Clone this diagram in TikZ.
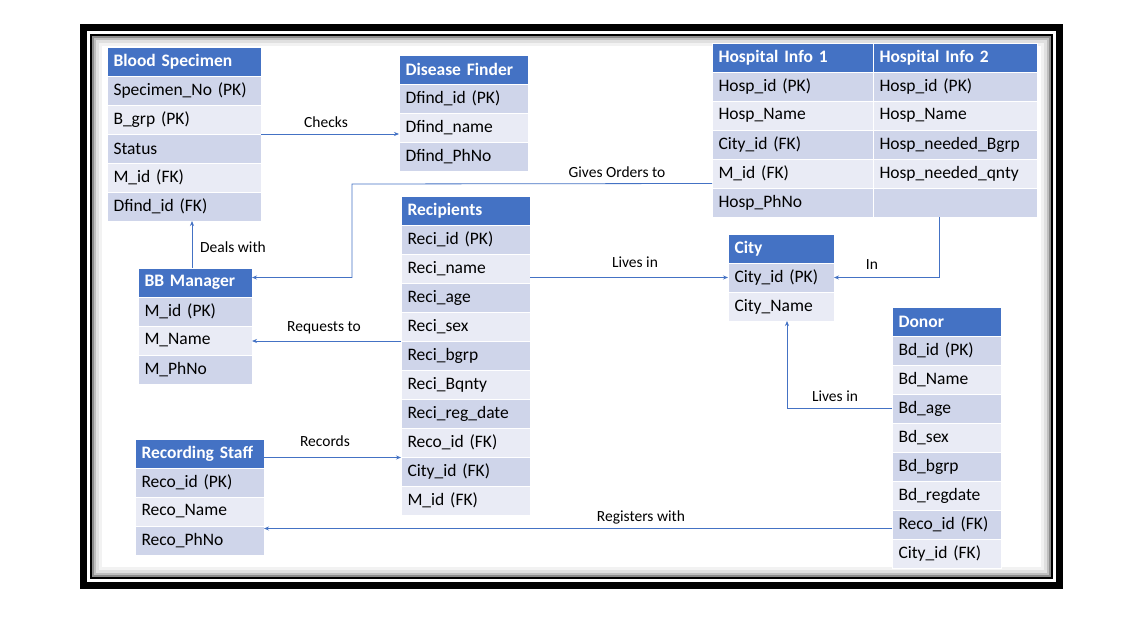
\documentclass[tikz,border=0pt]{standalone}
\usepackage{fontspec}
\setmainfont{Carlito}
\usetikzlibrary{positioning,arrows.meta}

\definecolor{hdrblue}{HTML}{4472C4}
\definecolor{rowdark}{HTML}{CFD5EA}
\definecolor{rowlight}{HTML}{E9EBF5}

\newcommand{\cellfont}{\fontsize{17.5}{20}\selectfont}
\newcommand{\lblfont}{\fontsize{15.5}{18}\selectfont}

\tikzset{
  cell/.style={rectangle, draw=white, line width=1pt, outer sep=0pt, inner xsep=6.5pt, inner ysep=0pt,
    minimum height=29pt, text width=#1, align=left, font=\cellfont},
  hdr/.style={cell=#1, fill=hdrblue, text=white, font=\cellfont\bfseries},
  rowd/.style={cell=#1, fill=rowdark},
  rowl/.style={cell=#1, fill=rowlight},
  conn/.style={draw=hdrblue, line width=0.8pt, -{Stealth[length=5pt,width=4pt]}},
  lbl/.style={font=\lblfont, inner sep=1pt},
}

\begin{document}
\begin{tikzpicture}[x=1pt,y=-1pt]
\useasboundingbox (0,0) rectangle (1125,621);
\fill[white] (0,0) rectangle (1125,621);

% Draw the picture frame
\fill[black] (80,24) rectangle (1063,589);
\fill[white] (87,31) rectangle (1056,582);
\fill[black] (90,34) rectangle (1053,579);
\fill[black!45] (92,36) rectangle (1051,577);
\fill[black!25] (94,38) rectangle (1049,575);
\fill[black!12] (96,40) rectangle (1047,573);
\fill[black!5] (99,43) rectangle (1044,570);
\fill[white] (102,46) rectangle (1041,567);

% Blood Specimen
\node[hdr=141pt, anchor=north west] (bsh) at (107,47) {Blood Specimen};
\node[rowd=141pt, below=0pt of bsh] (bs1) {Specimen\_No (PK)};
\node[rowl=141pt, below=0pt of bs1] (bs2) {B\_grp (PK)};
\node[rowd=141pt, below=0pt of bs2] (bs3) {Status};
\node[rowl=141pt, below=0pt of bs3] (bs4) {M\_id (FK)};
\node[rowd=141pt, below=0pt of bs4] (bs5) {Dfind\_id (FK)};

% Disease Finder
\node[hdr=116pt, anchor=north west] (dfh) at (399,55) {Disease Finder};
\node[rowd=116pt, below=0pt of dfh] (df1) {Dfind\_id (PK)};
\node[rowl=116pt, below=0pt of df1] (df2) {Dfind\_name};
\node[rowd=116pt, below=0pt of df2] (df3) {Dfind\_PhNo};

% Hospital Info 1 and 2
\node[hdr=148pt, anchor=north west] (h1h) at (712,43) {Hospital Info 1};
\node[rowd=148pt, below=0pt of h1h] (h11) {Hosp\_id (PK)};
\node[rowl=148pt, below=0pt of h11] (h12) {Hosp\_Name};
\node[rowd=148pt, below=0pt of h12] (h13) {City\_id (FK)};
\node[rowl=148pt, below=0pt of h13] (h14) {M\_id (FK)};
\node[rowd=148pt, below=0pt of h14] (h15) {Hosp\_PhNo};
\node[hdr=151pt, right=0pt of h1h] (h2h) {Hospital Info 2};
\node[rowd=151pt, below=0pt of h2h] (h21) {Hosp\_id (PK)};
\node[rowl=151pt, below=0pt of h21] (h22) {Hosp\_Name};
\node[rowd=151pt, below=0pt of h22] (h23) {Hosp\_needed\_Bgrp};
\node[rowl=151pt, below=0pt of h23] (h24) {Hosp\_needed\_qnty};
\node[rowd=151pt, below=0pt of h24] (h25) {};

% Recipients
\node[hdr=116pt, anchor=north west] (rch) at (401,196) {Recipients};
\node[rowd=116pt, below=0pt of rch] (rc1) {Reci\_id (PK)};
\node[rowl=116pt, below=0pt of rc1] (rc2) {Reci\_name};
\node[rowd=116pt, below=0pt of rc2] (rc3) {Reci\_age};
\node[rowl=116pt, below=0pt of rc3] (rc4) {Reci\_sex};
\node[rowd=116pt, below=0pt of rc4] (rc5) {Reci\_bgrp};
\node[rowl=116pt, below=0pt of rc5] (rc6) {Reci\_Bqnty};
\node[rowd=116pt, below=0pt of rc6] (rc7) {Reci\_reg\_date};
\node[rowl=116pt, below=0pt of rc7] (rc8) {Reco\_id (FK)};
\node[rowd=116pt, below=0pt of rc8] (rc9) {City\_id (FK)};
\node[rowl=116pt, below=0pt of rc9] (rc10) {M\_id (FK)};

% City
\node[hdr=93pt, anchor=north west] (cyh) at (728,234) {City};
\node[rowd=93pt, below=0pt of cyh] (cy1) {City\_id (PK)};
\node[rowl=93pt, below=0pt of cy1] (cy2) {City\_Name};

% BB Manager
\node[hdr=101pt, anchor=north west] (bbh) at (138,268) {BB Manager};
\node[rowd=101pt, below=0pt of bbh] (bb1) {M\_id (PK)};
\node[rowl=101pt, below=0pt of bb1] (bb2) {M\_Name};
\node[rowd=101pt, below=0pt of bb2] (bb3) {M\_PhNo};

% Donor
\node[hdr=96pt, anchor=north west] (dnh) at (892,307) {Donor};
\node[rowd=96pt, below=0pt of dnh] (dn1) {Bd\_id (PK)};
\node[rowl=96pt, below=0pt of dn1] (dn2) {Bd\_Name};
\node[rowd=96pt, below=0pt of dn2] (dn3) {Bd\_age};
\node[rowl=96pt, below=0pt of dn3] (dn4) {Bd\_sex};
\node[rowd=96pt, below=0pt of dn4] (dn5) {Bd\_bgrp};
\node[rowl=96pt, below=0pt of dn5] (dn6) {Bd\_regdate};
\node[rowd=96pt, below=0pt of dn6] (dn7) {Reco\_id (FK)};
\node[rowl=96pt, below=0pt of dn7] (dn8) {City\_id (FK)};

% Recording Staff
\node[hdr=116pt, anchor=north west] (rsh) at (135,439) {Recording Staff};
\node[rowd=116pt, below=0pt of rsh] (rs1) {Reco\_id (PK)};
\node[rowl=116pt, below=0pt of rs1] (rs2) {Reco\_Name};
\node[rowd=116pt, below=0pt of rs2] (rs3) {Reco\_PhNo};

% Draw the relations
\coordinate (gobend) at (352,184);
\draw[conn] (bs2.south east) -- (bs2.south east -| df2.west);
\draw[conn] ([yshift=-10pt]h14.west) -- (gobend) |- ([yshift=5pt]bbh.east);
\draw[conn] ([xshift=-3pt]bbh.north) -- ([xshift=-3pt]bbh.north |- bs5.south);
\draw[conn] (rc5.north west) -- (rc5.north west -| bb2.east);
\draw[conn] (rc2.east |- cy1.west) -- (cy1.west);
\draw[conn] ([xshift=-16pt]h25.south) |- (cy1.east);
\draw[conn] (dn3.west) -| ([xshift=6pt]cy2.south);
\draw[conn] ([yshift=-4pt]rsh.east) -- ([yshift=-4pt]rsh.east -| rc8.west);
\draw[conn] ([yshift=-4pt]dn7.west) -- ([yshift=-4pt]dn7.west -| rs2.east);

\node[lbl] (lchecks) at (326,122) {Checks};
\node[lbl] (lorders) at (617,172) {Gives Orders to};
\node[lbl] (ldeals) at (233,247) {Deals with};
\node[lbl] (lrequests) at (324,328) {Requests to};
\node[lbl] (lrlives) at (635,262) {Lives in};
\node[lbl] (lin) at (872,265) {In};
\node[lbl] (ldlives) at (835,396) {Lives in};
\node[lbl] (lrecords) at (325,441) {Records};
\node[lbl] (lregisters) at (641,517) {Registers with};
\end{tikzpicture}
\end{document}
